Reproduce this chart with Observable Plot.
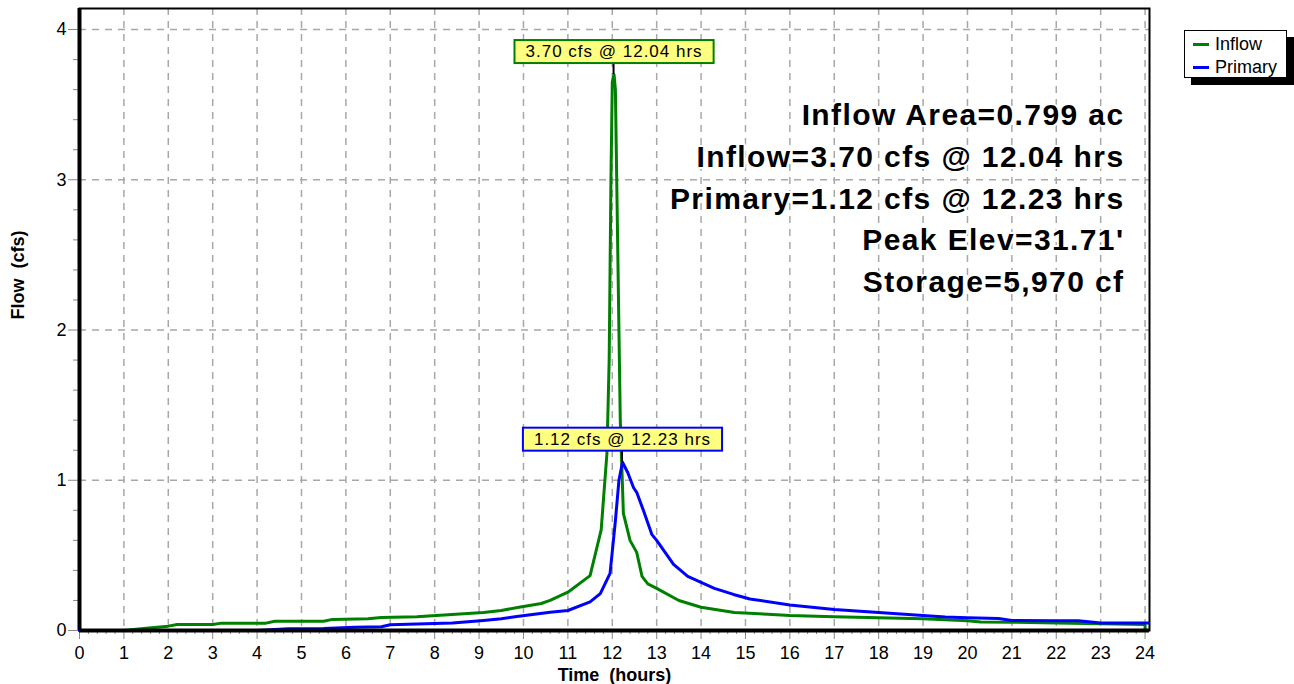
<!DOCTYPE html>
<html>
<head>
<meta charset="utf-8">
<script src="https://cdn.jsdelivr.net/npm/d3@7"></script>
<script src="https://cdn.jsdelivr.net/npm/@observablehq/plot@0.6"></script>
<style>
  html, body { margin: 0; padding: 0; background: white; }
  #wrap { position: relative; width: 1294px; height: 684px; font-family: 'Liberation Sans', Arial, sans-serif; }
  .legend { position: absolute; left: 1184px; top: 30px; width: 101px; height: 46px; background: white;
            border: 1px solid black; box-shadow: 7px 7px 0 black; font-size: 18px; }
  .legend .row { display: flex; align-items: center; height: 20px; margin-top: 3px; }
  .legend .sw { width: 16px; height: 3px; margin-left: 8px; margin-right: 6px; }
</style>
</head>
<body>
<div id="wrap"></div>
<script>
// ---- data ----
const seriesNames = ["Inflow", "Primary"];
const seriesColors = ["#008000", "#0000ff"];

const inflowT = [0, 1, 1.5, 2, 2.2, 3, 3.2, 4.2, 4.4, 5.5, 5.7, 6.5, 6.8, 7.6, 8.3, 9.1, 9.5, 9.9, 10.4, 10.6, 11.0, 11.5, 11.75, 11.88, 11.93, 11.97, 12.0, 12.04, 12.07, 12.1, 12.18, 12.25, 12.4, 12.55, 12.67, 12.8, 13.0, 13.5, 14.0, 14.75, 15.5, 16, 17, 18, 19, 20, 20.3, 21, 22, 23, 24, 24];
const inflowQ = [0, 0, 0.015, 0.029, 0.04, 0.04, 0.049, 0.049, 0.062, 0.062, 0.074, 0.078, 0.087, 0.092, 0.105, 0.12, 0.133, 0.155, 0.18, 0.2, 0.255, 0.365, 0.67, 1.18, 1.8, 3.0, 3.65, 3.70, 3.6, 3.0, 1.4, 0.78, 0.6, 0.52, 0.36, 0.31, 0.28, 0.2, 0.155, 0.12, 0.108, 0.1, 0.092, 0.085, 0.078, 0.065, 0.056, 0.055, 0.05, 0.045, 0.04, 0];

const primaryT = [0, 4.0, 4.7, 5.5, 6.2, 6.8, 7.0, 7.8, 8.4, 9.1, 9.5, 9.85, 10.6, 11.0, 11.5, 11.73, 11.95, 12.07, 12.15, 12.23, 12.35, 12.48, 12.55, 12.7, 12.89, 13.0, 13.38, 13.7, 14.0, 14.3, 14.73, 15.1, 16, 17, 17.5, 18, 18.5, 19, 19.5, 20, 20.7, 21, 22, 22.5, 23, 24.08];
const primaryQ = [0, 0, 0.011, 0.013, 0.022, 0.025, 0.038, 0.045, 0.05, 0.067, 0.078, 0.093, 0.122, 0.133, 0.19, 0.246, 0.38, 0.73, 1.0, 1.12, 1.05, 0.95, 0.92, 0.8, 0.64, 0.6, 0.44, 0.36, 0.32, 0.28, 0.24, 0.21, 0.17, 0.14, 0.13, 0.12, 0.11, 0.1, 0.09, 0.085, 0.08, 0.067, 0.065, 0.065, 0.05, 0.05];

const peakSeries = ["Inflow", "Primary"];
const peakTime = [12.04, 12.23];
const peakFlow = [3.70, 1.12];
const peakLabels = ["3.70 cfs @ 12.04 hrs", "1.12 cfs @ 12.23 hrs"];

const statLines = ["Inflow Area=0.799 ac", "Inflow=3.70 cfs @ 12.04 hrs", "Primary=1.12 cfs @ 12.23 hrs", "Peak Elev=31.71'", "Storage=5,970 cf"];

const xTicks = [0,1,2,3,4,5,6,7,8,9,10,11,12,13,14,15,16,17,18,19,20,21,22,23,24];
const yTicks = [0,1,2,3,4];
const xTitle = "Time\u00a0 (hours)";
const yTitle = "Flow\u00a0 (cfs)";

// ---- tables ----
const inflow = inflowT.map((t, i) => ({t, q: inflowQ[i]}));
const primary = primaryT.map((t, i) => ({t, q: primaryQ[i]}));
const peaks = peakSeries.map((s, i) => ({s, t: peakTime[i], q: peakFlow[i], label: peakLabels[i], color: seriesColors[seriesNames.indexOf(s)]}));
const xMinor = d3.range(0, 24.01, 0.2).filter(v => Math.abs(v - Math.round(v)) > 1e-6);
const yMinor = d3.range(0, 4.14, 0.2).filter(v => Math.abs(v - Math.round(v)) > 1e-6);

const gridStyle = {stroke: "#a8a8a8", strokeOpacity: 1, strokeWidth: 1.5, strokeDasharray: "7,6"};

const chart = Plot.plot({
  width: 1294, height: 684,
  marginLeft: 79, marginRight: 145, marginTop: 8, marginBottom: 54,
  style: {fontFamily: "'Liberation Sans', Arial, sans-serif", fontSize: "18px", background: "white", overflow: "visible"},
  x: {domain: [0, 24.1]},
  y: {domain: [0, 4.14]},
  marks: [
    Plot.gridX(xTicks, gridStyle),
    Plot.gridY(yTicks, gridStyle),
    Plot.frame({stroke: "black", strokeWidth: 2}),
    Plot.axisX(xMinor, {tickSize: 4, tickFormat: () => "", stroke: "#888", label: null}),
    Plot.axisX(xTicks, {tickSize: 9, tickPadding: 7, fontSize: 18, tickFormat: d3.format("d"), stroke: "#888", fill: "black", label: null}),
    Plot.axisY(yMinor, {tickSize: 6, tickFormat: () => "", stroke: "#888", label: null}),
    Plot.axisY(yTicks, {tickSize: 11, tickPadding: 2, fontSize: 18, tickFormat: d3.format("d"), stroke: "#888", fill: "black", label: null}),
    Plot.line(inflow, {x: "t", y: "q", stroke: seriesColors[0], strokeWidth: 3}),
    Plot.line(primary, {x: "t", y: "q", stroke: seriesColors[1], strokeWidth: 3}),
    Plot.ruleX([0], {stroke: "black", strokeWidth: 4}),
    Plot.ruleY([0], {stroke: "black", strokeWidth: 4}),
    Plot.text([statLines.join("\n")], {text: d => d, frameAnchor: "top-right", textAnchor: "end", lineAnchor: "top",
      dx: -25, dy: 87, fontSize: 30, fontWeight: "bold", lineHeight: 1.39, fill: "black", stroke: "white", strokeWidth: 4}),
    Plot.text(peaks, {x: "t", y: "q", text: "label", dy: -23, lineAnchor: "middle", fontSize: 17, fill: "black"}),
    Plot.text([xTitle], {text: d => d, frameAnchor: "bottom", lineAnchor: "middle", dy: 45, fontSize: 18, fontWeight: "bold"}),
    Plot.text([yTitle], {text: d => d, frameAnchor: "left", rotate: -90, dx: -61, fontSize: 18, fontWeight: "bold", lineAnchor: "middle"})
  ]
});

const wrap = document.getElementById("wrap");
wrap.appendChild(chart);

// letter spacing on the stat block (reference glyphs render wider)
d3.select(chart).selectAll("text").filter(function() { return this.textContent.startsWith("Inflow Area"); })
  .style("letter-spacing", "1.4px");

// peak label boxes + leader lines
const xs = chart.scale("x"), ys = chart.scale("y");
d3.select(chart).selectAll("text").each(function() {
  const i = peakLabels.indexOf(this.textContent);
  if (i < 0) return;
  const p = peaks[i];
  this.style.letterSpacing = "1px";
  const bb = this.getBBox();
  const parent = this.parentNode;
  const ns = "http://www.w3.org/2000/svg";
  const rect = document.createElementNS(ns, "rect");
  rect.setAttribute("x", bb.x - 11);
  rect.setAttribute("y", bb.y - 2);
  rect.setAttribute("width", bb.width + 22);
  rect.setAttribute("height", bb.height + 4);
  if (this.getAttribute("transform")) rect.setAttribute("transform", this.getAttribute("transform"));
  rect.setAttribute("fill", "#ffff80");
  rect.setAttribute("stroke", p.color);
  rect.setAttribute("stroke-width", 2);
  parent.insertBefore(rect, this);
  const grp = parent.closest("svg > g") || parent;
  const line = document.createElementNS(ns, "line");
  const px = xs.apply(p.t), py = ys.apply(p.q);
  line.setAttribute("x1", px); line.setAttribute("x2", px);
  line.setAttribute("y1", py); line.setAttribute("y2", py - 23);
  line.setAttribute("stroke", "black"); line.setAttribute("stroke-width", 2);
  grp.parentNode.insertBefore(line, grp);
});

// legend
const leg = d3.select(wrap).append("div").attr("class", "legend");
seriesNames.forEach((name, i) => {
  const row = leg.append("div").attr("class", "row");
  row.append("div").attr("class", "sw").style("background", seriesColors[i]);
  row.append("span").text(name);
});
</script>
</body>
</html>
